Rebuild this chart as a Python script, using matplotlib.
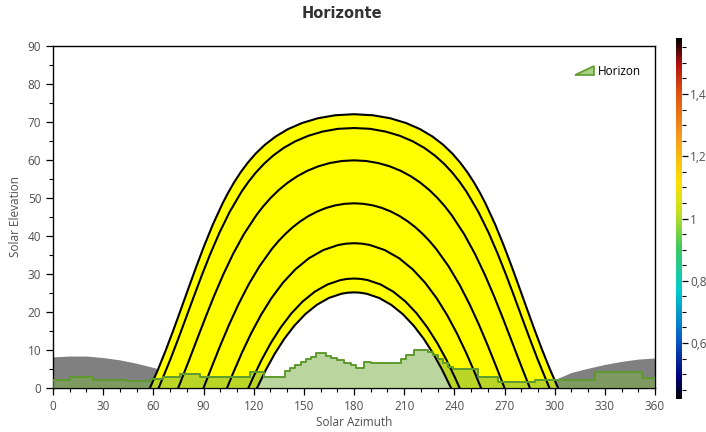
import numpy as np
import matplotlib
matplotlib.use("Agg")
import matplotlib.pyplot as plt
from matplotlib.colors import LinearSegmentedColormap, Normalize
from matplotlib.cm import ScalarMappable
from matplotlib.patches import Polygon, Patch
from matplotlib.legend_handler import HandlerPatch
from matplotlib.ticker import MultipleLocator

# Trayectorias solares (azimut, elevacion)
az1 = [57.98, 62.80, 67.46, 71.99, 76.45, 80.94, 85.54, 90.36, 95.57, 101.39, 104.62, 108.14, 112.01, 116.33, 121.21,
       126.75, 133.12, 140.46, 148.87, 158.43, 168.86, 180,
       191.14, 201.57, 211.13, 219.54, 226.88, 233.25, 238.79, 243.67, 247.99, 251.86, 255.38, 258.61, 264.43,
       269.64, 274.46, 279.06, 283.55, 288.01, 292.54, 297.20, 302.02]
el1 = [0, 4.87, 9.98, 15.25, 20.66, 26.18, 31.76, 37.38, 43.0, 48.56, 51.30, 54.0, 56.64, 59.2, 61.69,
       64.02, 66.17, 68.10, 69.72, 70.98, 71.77, 72.04,
       71.77, 70.98, 69.72, 68.10, 66.17, 64.02, 61.69, 59.2, 56.64, 54.0, 51.30, 48.56, 43.0,
       37.38, 31.76, 26.18, 20.66, 15.25, 9.98, 4.87, 0]

az2 = [63.15, 70.23, 74.89, 79.50, 84.15, 88.95, 94.00, 99.48, 105.61, 112.69, 116.73, 121.19, 126.14, 131.69,
       137.93, 144.93, 152.75, 161.23, 170.48, 180,
       189.52, 198.77, 207.25, 215.07, 222.07, 228.31, 233.86, 238.81, 243.27, 247.31, 254.39, 260.52, 266.00,
       271.05, 275.85, 280.50, 285.11, 289.77, 296.85]
el2 = [0, 7.58, 12.94, 18.43, 24.0, 29.61, 35.23, 40.82, 46.31, 51.62, 54.17, 56.64, 58.98, 61.17,
       63.17, 64.92, 66.38, 67.48, 68.20, 68.4,
       68.20, 67.48, 66.38, 64.92, 63.17, 61.17, 58.98, 56.64, 54.17, 51.62, 46.31, 40.82, 35.23,
       29.61, 24.0, 18.43, 12.94, 7.58, 0]

az3 = [74.86, 81.48, 86.33, 91.26, 96.37, 101.79, 107.67, 114.2, 121.62, 125.75, 130.22, 135.06, 140.31,
       145.98, 152.1, 158.67, 165.51, 172.73, 180,
       187.27, 194.49, 201.33, 207.9, 214.02, 219.69, 224.94, 229.78, 234.25, 238.38, 245.8, 252.33, 258.21,
       263.63, 268.74, 273.67, 278.52, 285.14]
el3 = [0, 7.45, 13.04, 18.66, 24.27, 29.83, 35.27, 40.52, 45.49, 47.83, 50.05, 52.12, 54.01,
       55.70, 57.15, 58.33, 59.19, 59.73, 59.9,
       59.73, 59.19, 58.33, 57.15, 55.70, 54.01, 52.12, 50.05, 47.83, 45.49, 40.52, 35.27, 29.83,
       24.27, 18.66, 13.04, 7.45, 0]

az4 = [90, 94.98, 100.05, 105.32, 110.9, 116.9, 123.48, 130.76, 134.70, 138.88, 143.29, 147.94, 152.83,
       157.95, 163.25, 168.73, 174.36, 180,
       185.64, 191.27, 196.75, 202.05, 207.17, 212.06, 216.71, 221.12, 225.30, 229.24, 236.52, 243.1, 249.1,
       254.68, 259.95, 265.02, 270]
el4 = [0, 5.62, 11.19, 16.68, 22.03, 27.17, 32.03, 36.52, 38.59, 40.51, 42.28, 43.87, 45.26,
       46.43, 47.37, 48.05, 48.46, 48.6,
       48.46, 48.05, 47.37, 46.43, 45.26, 43.87, 42.28, 40.51, 38.59, 36.52, 32.03, 27.17, 22.03,
       16.68, 11.19, 5.62, 0]

az5 = [104.06, 107.8, 113.0, 118.47, 124.32, 130.63, 137.47, 144.91, 152.96, 161.61, 170.66, 175.31, 180,
       184.69, 189.34, 198.39, 207.04, 215.09, 222.53, 229.37, 235.68, 241.53, 247.0, 252.2, 255.94]
el5 = [0, 4.03, 9.31, 14.37, 19.18, 23.64, 27.69, 31.21, 34.12, 36.29, 37.64, 37.98, 38.1,
       37.98, 37.64, 36.29, 34.12, 31.21, 27.69, 23.64, 19.18, 14.37, 9.31, 4.03, 0]

az6 = [116.85, 119.52, 124.75, 130.29, 136.22, 142.54, 149.32, 156.53, 164.12, 171.97, 175.98, 180,
       184.02, 188.03, 195.88, 203.47, 210.68, 217.46, 223.78, 229.71, 235.25, 240.48, 243.15]
el6 = [0, 2.64, 7.40, 11.87, 15.96, 19.63, 22.78, 25.34, 27.24, 28.41, 28.70, 28.8,
       28.70, 28.41, 27.24, 25.34, 22.78, 19.63, 15.96, 11.87, 7.40, 2.64, 0]

az7 = [122.02, 127.14, 132.53, 138.27, 144.39, 150.89, 157.76, 164.95, 172.41, 176.18, 180,
       183.82, 187.59, 195.05, 202.24, 209.11, 215.61, 221.73, 227.47, 232.86, 237.98]
el7 = [0, 4.65, 8.97, 12.92, 16.43, 19.45, 21.88, 23.69, 24.79, 25.07, 25.16,
       25.07, 24.79, 23.69, 21.88, 19.45, 16.43, 12.92, 8.97, 4.65, 0]

# Perfil de horizonte (escalones)
hor_az = [0, 10, 24, 44, 58, 66, 76, 88, 118, 126, 139, 142, 145, 148, 151, 154, 157, 163, 166, 170,
          174, 178, 181, 186, 190, 208, 211, 216, 224, 227, 230, 233, 236, 239, 254, 266, 288, 324, 352, 360]
hor_el = [2.2, 3.0, 2.2, 1.8, 2.4, 2.9, 3.6, 3.0, 4.1, 3.0, 4.4, 5.2, 6.0, 6.9, 7.6, 8.2, 9.1, 8.5, 7.8, 7.4,
          6.5, 6.0, 5.2, 6.9, 6.5, 7.6, 8.7, 10.0, 9.5, 8.7, 7.5, 6.5, 5.5, 4.9, 3.0, 1.7, 2.1, 4.1, 2.6, 2.6]

# Zona gris (sol bajo el horizonte)
gris_az = [0, 10, 20, 30, 40, 50, 60, 70, 80, 90, 100, 110, 290, 300, 310, 320, 330, 340, 350, 360]
gris_el = [8.2, 8.4, 8.4, 8.0, 7.4, 6.5, 5.4, 4.2, 3.0, 1.6, 0.4, 0, 0, 2.2, 4.1, 5.2, 6.2, 7.0, 7.6, 7.9]

cb_ticks = [0.6, 0.8, 1.0, 1.2, 1.4]
cb_labels = ["0,6", "0,8", "1", "1,2", "1,4"]

curvas = [(az1, el1), (az2, el2), (az3, el3), (az4, el4), (az5, el5), (az6, el6), (az7, el7)]

txt = "#505050"
plt.rcParams['font.family'] = ['Open Sans', 'DejaVu Sans']

fig = plt.figure(figsize=(7.06, 4.32), dpi=100)
ax = fig.add_axes([0.0751, 0.1019, 0.8527, 0.7917])

ax.fill_between(gris_az, gris_el, 0, color="#808080", lw=0, zorder=1)

# relleno amarillo entre la trayectoria de verano y la de invierno
ax.fill(list(az1) + az7[::-1], list(el1) + el7[::-1], color="#ffff00", lw=0, zorder=2)

ax.fill_between(hor_az, hor_el, 0, step="post", color="#7fb14a", alpha=0.53, lw=0, zorder=3)

for a, e in curvas:
    ax.plot(a, e, color="black", lw=1.5, zorder=4)

ax.step(hor_az, hor_el, where="post", color="#5e9a2e", lw=1.4, zorder=5)

ax.set_xlim(0, 360)
ax.set_ylim(0, 90)
ax.xaxis.set_major_locator(MultipleLocator(30))
ax.xaxis.set_minor_locator(MultipleLocator(10))
ax.yaxis.set_major_locator(MultipleLocator(10))
ax.yaxis.set_minor_locator(MultipleLocator(5))
ax.tick_params(which="major", length=5, width=0.9, colors="black", labelcolor=txt, labelsize=8.5)
ax.tick_params(which="minor", length=3, width=0.8, colors="black")
for s in ax.spines.values():
    s.set_linewidth(1.0)
ax.set_xlabel("Solar Azimuth", color=txt, fontsize=8.5, labelpad=2)
ax.set_ylabel("Solar Elevation", color=txt, fontsize=8.5, labelpad=4)

fig.suptitle("Horizonte", x=0.485, y=0.985, fontsize=10.5, fontweight="bold",
             color="#333333", family="DejaVu Sans")

# leyenda con icono de rampa
def rampa(legend, orig_handle, xdescent, ydescent, width, height, fontsize):
    return Polygon([[0, 0], [width, 0], [width, height * 1.1]], closed=True)

h = Patch(facecolor="#a8d080", edgecolor="#5e9a2e", lw=1.2)
ax.legend([h], ["Horizon"], loc="upper right", frameon=False, fontsize=8.5,
          handlelength=1.6, handletextpad=0.4, bbox_to_anchor=(0.995, 0.975),
          handler_map={Patch: HandlerPatch(patch_func=rampa)})

# barra de color
colores = [(0.0, "#000000"), (0.06, "#00007a"), (0.17, "#0a60c8"), (0.3, "#00cccc"),
           (0.42, "#40c860"), (0.52, "#c8e020"), (0.6, "#ffe000"), (0.72, "#f5a020"),
           (0.85, "#e05010"), (0.93, "#b01010"), (1.0, "#000000")]
cmap = LinearSegmentedColormap.from_list("solar", colores)
norm = Normalize(vmin=0.42, vmax=1.58)
cax = fig.add_axes([0.9575, 0.0764, 0.0085, 0.8356])
cb = fig.colorbar(ScalarMappable(norm=norm, cmap=cmap), cax=cax)
cb.outline.set_visible(False)
cb.set_ticks(cb_ticks)
cb.set_ticklabels(cb_labels)
cax.yaxis.set_minor_locator(MultipleLocator(0.05))
cax.tick_params(which="major", length=4, width=0.9, labelsize=8.5, labelcolor=txt, pad=2)
cax.tick_params(which="minor", length=3, width=0.8)

fig.savefig("out.png", dpi=100)
plt.close('all')
